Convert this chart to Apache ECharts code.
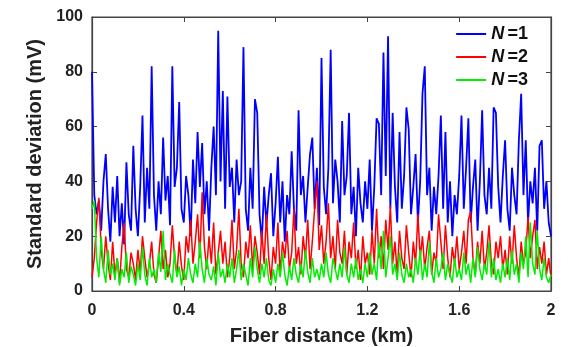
<!DOCTYPE html>
<html><head><meta charset="utf-8">
<script src="https://cdn.jsdelivr.net/npm/echarts@6/dist/echarts.min.js"></script>
<style>html,body{margin:0;padding:0;background:#fff}#c{width:572px;height:347px}</style>
</head><body><div id="c"></div>
<script>
var xStep = 0.01;
var xTicks = [0, 0.4, 0.8, 1.2, 1.6, 2];
var yTicks = [0, 20, 40, 60, 80, 100];
var seriesNames = ['1', '2', '3'];
var blue = [
80,35,28,33,22,40,50,30,18,38,25,42,20,32,17,47,28,22,53,30,
20,38,64,25,45,30,82,35,22,40,28,56,33,42,24,82,38,45,69,30,
25,42,35,20,48,32,58,38,54,28,40,22,45,60,35,95,40,73,30,71,
38,45,25,48,35,40,89,30,22,45,30,70,65,28,18,38,24,35,43,20,
32,49,25,40,18,35,28,51,30,22,66,35,42,25,38,50,56,30,45,24,
85,38,28,45,88,32,48,40,25,62,35,42,65,28,38,20,45,32,25,40,
30,48,22,38,63,61,35,87,42,93,30,65,38,25,58,30,42,67,59,28,
38,50,25,40,72,82,35,45,22,38,28,42,64,30,58,25,40,20,35,28,
42,64,30,45,63,25,38,48,22,40,66,35,28,45,30,67,65,38,25,42,
55,30,22,45,35,28,55,72,35,55,25,40,32,45,22,53,55,30,40,25,
20];
var red = [
5,12,25,34,15,8,20,10,4,18,6,12,3,16,25,8,5,14,10,4,
15,7,20,12,5,10,18,6,3,12,22,8,15,5,10,24,12,6,18,9,
4,20,14,26,10,18,28,12,36,16,8,20,10,25,6,14,22,10,18,5,
12,26,8,15,30,10,5,18,12,24,8,20,14,6,22,10,28,12,4,16,
10,25,6,18,12,22,8,14,30,10,16,6,20,12,26,8,18,30,40,15,
24,10,18,32,12,20,8,26,14,10,22,6,18,12,25,8,15,4,20,10,
14,6,22,10,30,12,20,8,26,15,31,10,18,6,22,12,8,24,14,5,
18,10,28,12,20,8,16,22,6,14,10,28,18,8,24,12,5,16,10,20,
8,14,22,10,26,29,12,6,18,10,22,8,14,24,10,6,18,12,20,8,
15,6,20,10,24,12,5,18,10,14,27,12,20,26,8,16,10,18,6,12,
5];
var green = [
30,33,12,5,20,8,3,15,6,10,4,12,2,8,5,14,3,9,6,2,
10,4,16,6,2,12,5,8,3,14,7,22,4,10,6,3,15,5,9,2,
8,4,12,6,3,10,5,18,8,3,12,6,4,9,2,14,5,8,3,10,
5,12,3,8,15,4,10,6,2,12,5,16,8,3,10,5,12,4,2,8,
3,10,5,14,6,2,9,4,12,6,3,10,5,15,7,3,12,5,8,4,
10,5,14,6,3,12,8,4,10,5,16,6,3,10,5,12,4,8,3,10,
5,14,6,10,4,18,8,22,5,12,20,6,10,4,14,6,3,10,5,8,
3,12,6,15,4,10,5,18,7,3,12,5,8,14,4,10,6,3,12,5,
8,4,14,6,10,3,12,5,16,8,4,10,6,18,5,12,4,8,3,10,
5,12,4,15,6,10,3,14,8,20,5,25,10,6,22,8,4,12,5,3,
6];

function pairs(arr){ return arr.map(function(v,i){ return [+(i*xStep).toFixed(2), v]; }); }

var chart = echarts.init(document.getElementById('c'), null, {renderer:'canvas', width:572, height:347});
var font = 'Liberation Sans, Arial, sans-serif';
var axisColor = '#444';
var labelStyle = {color:'#222', fontFamily:font, fontWeight:'bold', fontSize:16};
function mk(name, color, data, w){
  return {name:name, type:'line', data:pairs(data), symbol:'none', showSymbol:false,
    lineStyle:{color:color, width:w}, itemStyle:{color:color}, animation:false, z:3};
}
var tick = {show:true, inside:true, length:5, lineStyle:{color:axisColor}};
var line = {show:true, onZero:false, lineStyle:{color:axisColor, width:1.2}};
chart.setOption({
  animation:false,
  grid:{left:92, top:17, width:459, height:274, containLabel:false, outerBoundsMode:'none',
        show:true, borderColor:axisColor, borderWidth:1.2, backgroundColor:'transparent'},
  legend:{
    data:seriesNames, right:39, top:20, orient:'vertical', itemGap:5,
    icon:'rect', itemWidth:30, itemHeight:2,
    formatter:function(n){ return '{i|N} {b|=' + n + '}'; },
    textStyle:{rich:{
      i:{fontFamily:font, fontWeight:'bold', fontStyle:'italic', fontSize:18, color:'#111'},
      b:{fontFamily:font, fontWeight:'bold', fontSize:18, color:'#111'}
    }}
  },
  xAxis:[{
    type:'value', min:xTicks[0], max:xTicks[xTicks.length-1], interval:0.4,
    name:'Fiber distance (km)', nameLocation:'middle', nameGap:35,
    nameTextStyle:{color:'#222', fontFamily:font, fontWeight:'bold', fontSize:20},
    axisLine:line, axisTick:tick,
    axisLabel:Object.assign({margin:12}, labelStyle),
    splitLine:{show:false}
  },{
    type:'value', position:'top', min:0, max:2, interval:0.4,
    axisLine:line, axisTick:tick,
    axisLabel:{show:false}, splitLine:{show:false}
  }],
  yAxis:[{
    type:'value', min:yTicks[0], max:yTicks[yTicks.length-1], interval:20,
    name:'Standard deviation (mV)', nameLocation:'middle', nameGap:42, nameRotate:90,
    nameTextStyle:{color:'#222', fontFamily:font, fontWeight:'bold', fontSize:20},
    axisLine:line, axisTick:tick,
    axisLabel:Object.assign({margin:9}, labelStyle),
    splitLine:{show:false}
  },{
    type:'value', position:'right', min:0, max:100, interval:20,
    axisLine:line, axisTick:tick,
    axisLabel:{show:false}, splitLine:{show:false}
  }],
  series:[mk('1','#0000ff',blue,1.8), mk('2','#ff0000',red,1.5), mk('3','#00ee00',green,1.5)]
});
</script></body></html>
